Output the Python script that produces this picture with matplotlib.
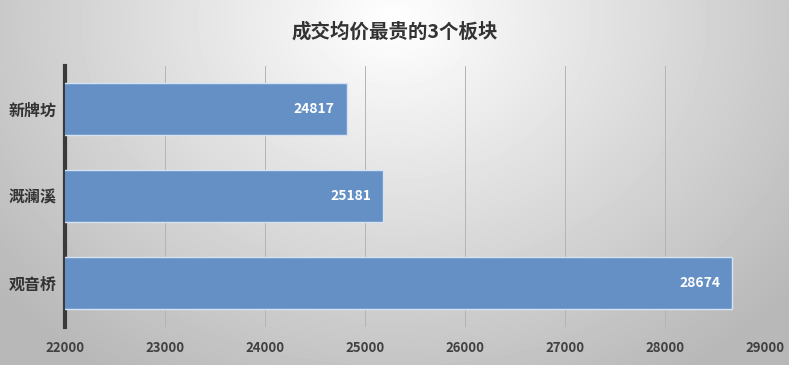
import numpy as np
import matplotlib
matplotlib.use('Agg')
import matplotlib.pyplot as plt

plt.rcParams['font.family'] = ['Noto Sans CJK SC', 'DejaVu Sans']

# data
categories = ['观音桥', '溉澜溪', '新牌坊']
prices = [28674, 25181, 24817]
xticks = [22000, 23000, 24000, 25000, 26000, 27000, 28000, 29000]
title = '成交均价最贵的3个板块'

fig = plt.figure(figsize=(7.89, 3.65), dpi=100)

# radial grey background, light at the top centre
bg = fig.add_axes([0, 0, 1, 1], zorder=-10)
yy, xx = np.mgrid[0:365, 0:789]
d = np.sqrt(((xx - 394) / 520.0) ** 2 + ((yy - 20) / 420.0) ** 2)
shade = np.clip(1.0 - 0.28 * d, 0.72, 1.0)
bg.imshow(shade, cmap='gray', vmin=0, vmax=1, aspect='auto', interpolation='bilinear')
bg.axis('off')

ax = fig.add_axes([0.0824, 0.105, 0.887, 0.715])
ax.patch.set_alpha(0)
pos = np.arange(len(categories))
bars = ax.barh(pos, prices, height=0.6, left=0, color='#6590c6',
               edgecolor='#d6e3f3', linewidth=1.0, zorder=3)

for p, v in zip(pos, prices):
    ax.text(v - 120, p, str(v), ha='right', va='center', color='white',
            fontsize=10, fontweight='bold', zorder=4)

ax.set_xlim(22000, 29000)
ax.set_ylim(-0.5, 2.5)
ax.set_xticks(xticks)
ax.set_xticklabels([str(t) for t in xticks], fontsize=9.5, fontweight='bold', color='#404040')
ax.set_yticks(pos)
ax.set_yticklabels(categories, fontsize=11.5, fontweight='bold', color='#333333')
ax.tick_params(axis='y', length=0, pad=6)
ax.tick_params(axis='x', length=0, pad=10)
ax.grid(axis='x', color='#b4b4b4', linewidth=0.7, zorder=1)
for s in ['top', 'right', 'bottom']:
    ax.spines[s].set_visible(False)
ax.spines['left'].set_color('#3a3a3a')
ax.spines['left'].set_linewidth(3)

fig.text(0.5, 0.912, title, ha='center', va='center', fontsize=14,
         fontweight='bold', color='#333333')

fig.savefig('out.png', dpi=100)
